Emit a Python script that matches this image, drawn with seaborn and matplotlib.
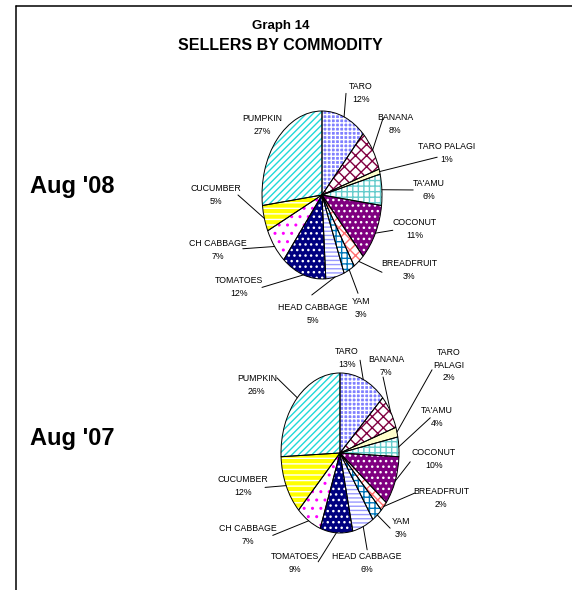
import numpy as np
import matplotlib
matplotlib.use("Agg")
import matplotlib.pyplot as plt
from matplotlib.lines import Line2D
import seaborn as sns

# commodities, clockwise from 12 o'clock
categories = ["TARO", "BANANA", "TARO PALAGI", "TA'AMU", "COCONUT", "BREADFRUIT",
              "YAM", "HEAD CABBAGE", "TOMATOES", "CH CABBAGE", "CUCUMBER", "PUMPKIN"]
aug08 = [12, 8, 1, 6, 11, 3, 3, 5, 12, 7, 5, 27]
aug07 = [13, 7, 2, 4, 10, 2, 3, 6, 9, 7, 12, 26]
periods = ["Aug '08", "Aug '07"]

sns.set_style("white")
plt.rcParams['font.family'] = ['Liberation Sans Narrow', 'Liberation Sans', 'DejaVu Sans']
plt.rcParams['hatch.linewidth'] = 1.0
plt.rcParams['text.color'] = 'black'

# face colour, hatch colour, hatch pattern for each commodity
faces = ['#8080ff', 'white', '#ffffcc', 'white', '#800080', 'white',
         'white', 'white', '#000080', 'white', '#ffff00', 'white']
hcols = ['white', '#800040', '#ffffcc', '#66cccc', 'white', '#ff7070',
         '#0077bb', '#9999ff', 'white', '#ff00ff', 'white', '#22d8d8']
hatches = ['++++', 'xxx', '', '+++', '...', 'xxx',
           '+++', '----', '...', '..', '---', '/////']

W, H = 572, 590
fig = plt.figure(figsize=(W / 100, H / 100), dpi=100)

# frame lines (left and top)
fig.add_artist(Line2D([16 / W, 16 / W], [0, 1 - 6 / H], color='black', lw=1.1))
fig.add_artist(Line2D([16 / W, 1], [1 - 6 / H, 1 - 6 / H], color='black', lw=1.1))

fig.text(281 / W, 1 - 26 / H, "Graph 14", ha='center', va='center',
         fontsize=9.5, fontweight='bold')
fig.text(280 / W, 1 - 46 / H, "SELLERS BY COMMODITY", ha='center', va='center',
         fontsize=11.5, fontweight='bold')

# pie geometry in pixels: centre x, centre y, half width, half height
geom = [(322, 195, 60, 84), (340, 453, 59, 80)]
period_y = [187, 438]

# label centres and leader-line starts, in pie units
label_pos = [
    [(0.65, 1.21), (1.22, 0.85), (2.07, 0.50), (1.78, 0.06), (1.55, -0.40), (1.45, -0.89),
     (0.65, -1.35), (-0.15, -1.42), (-1.38, -1.10), (-1.73, -0.65), (-1.77, 0.0), (-1.0, 0.83)],
    [(0.12, 1.19), (0.78, 1.09), (1.85, 1.10), (1.64, 0.45), (1.59, -0.08), (1.71, -0.56),
     (1.03, -0.94), (0.46, -1.38), (-0.76, -1.38), (-1.56, -1.03), (-1.64, -0.41), (-1.41, 0.85)],
]
anchors = [
    [(0.40, 1.21), (1.02, 0.92), (1.92, 0.45), (1.52, 0.06), (1.18, -0.42), (1.0, -0.92),
     (0.60, -1.17), (-0.17, -1.19), (-1.0, -1.10), (-1.32, -0.64), (-1.40, 0.0), None],
    [(0.34, 1.16), (0.73, 0.95), (1.56, 1.04), (1.53, 0.44), (1.19, -0.11), (1.27, -0.50),
     (0.85, -0.94), (0.46, -1.21), (-0.37, -1.36), (-1.14, -1.03), (-1.27, -0.43), (-1.07, 0.94)],
]
name_override = [{}, {"TARO PALAGI": "TARO\nPALAGI"}]

XL, YL = 3.0, 1.8
for k, vals in enumerate([aug08, aug07]):
    cx, cy, rx, ry = geom[k]
    ax = fig.add_axes([(cx - XL * rx) / W, (H - cy - YL * ry) / H,
                       2 * XL * rx / W, 2 * YL * ry / H])
    # base colours
    ax.pie(vals, startangle=90, counterclock=False, colors=faces,
           wedgeprops=dict(linewidth=0))
    # hatch overlay
    wedges, _ = ax.pie(vals, startangle=90, counterclock=False,
                       wedgeprops=dict(linewidth=0, facecolor='none'))
    for w, hc, hp in zip(wedges, hcols, hatches):
        w.set_edgecolor(hc)
        w.set_hatch(hp)
    # outlines
    ax.pie(vals, startangle=90, counterclock=False,
           wedgeprops=dict(linewidth=0.7, edgecolor='black', facecolor='none'))
    ax.set_aspect('auto')
    ax.set_xlim(-XL, XL)
    ax.set_ylim(-YL, YL)
    ax.axis('off')

    total = float(sum(vals))
    cum = np.cumsum(vals) - np.array(vals) / 2.0
    for i, (name, v) in enumerate(zip(categories, vals)):
        ang = np.deg2rad(90 - 360 * cum[i] / total)
        ex, ey = np.cos(ang), np.sin(ang)
        if anchors[k][i] is not None:
            axx, ayy = anchors[k][i]
            ax.plot([axx, ex], [ayy, ey], color='black', lw=0.7, clip_on=False)
        lx, ly = label_pos[k][i]
        txt = name_override[k].get(name, name) + "\n" + f"{v}%"
        ax.text(lx, ly, txt, ha='center', va='center', fontsize=6.3,
                linespacing=1.55, clip_on=False)

    fig.text(72 / W, 1 - period_y[k] / H, periods[k], ha='center', va='center',
             fontsize=17, fontweight='bold')

fig.savefig("out.png", dpi=100)
